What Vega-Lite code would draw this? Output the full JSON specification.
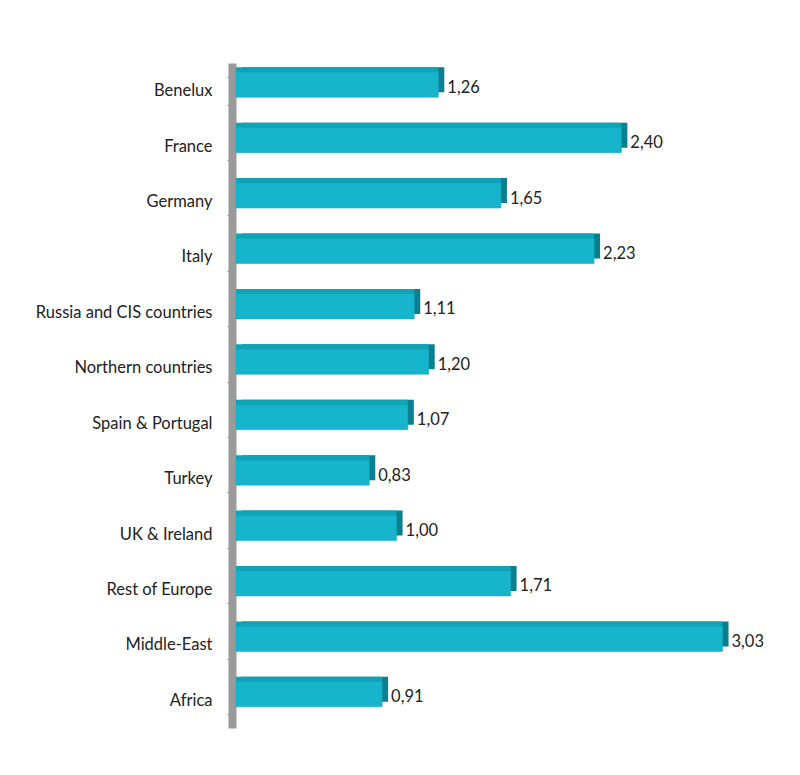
{
  "$schema": "https://vega.github.io/schema/vega-lite/v6.json",
  "autosize": "none",
  "width": 562,
  "height": 665,
  "padding": {"left": 236, "top": 63, "right": 2, "bottom": 47},
  "background": "white",
  "config": {
    "view": {"stroke": null},
    "locale": {"number": {"decimal": ",", "thousands": ".", "grouping": [3], "currency": ["", " €"]}},
    "font": "Lato"
  },
  "data": {
    "values": [
      {"region": "Benelux", "value": 1.26},
      {"region": "France", "value": 2.40},
      {"region": "Germany", "value": 1.65},
      {"region": "Italy", "value": 2.23},
      {"region": "Russia and CIS countries", "value": 1.11},
      {"region": "Northern countries", "value": 1.20},
      {"region": "Spain & Portugal", "value": 1.07},
      {"region": "Turkey", "value": 0.83},
      {"region": "UK & Ireland", "value": 1.00},
      {"region": "Rest of Europe", "value": 1.71},
      {"region": "Middle-East", "value": 3.03},
      {"region": "Africa", "value": 0.91}
    ]
  },
  "encoding": {
    "y": {
      "field": "region", "type": "nominal", "sort": null, "title": null,
      "scale": {"paddingInner": 0.5, "paddingOuter": 0.25},
      "axis": {
        "domainColor": "#9a9a9a", "domainWidth": 8, "offset": 4,
        "tickBand": "extent", "tickSize": 5, "tickColor": "#8a8a8a",
        "labelPadding": 15, "labelFontSize": 16.5, "labelColor": "#222222", "labelFont": "Lato"
      }
    },
    "x": {
      "field": "value", "type": "quantitative", "title": null,
      "scale": {"domain": [0, 3.5]},
      "axis": null
    }
  },
  "layer": [
    {"mark": {"type": "bar", "color": "#0a7f90", "xOffset": 6, "yOffset": -11, "size": 25}},
    {"mark": {"type": "bar", "color": "#0fa3b8", "yOffset": -11, "size": 25}},
    {"mark": {"type": "bar", "color": "#17b5cc", "yOffset": -6, "size": 25, "stroke": "#11a6bc", "strokeWidth": 0.5}},
    {
      "mark": {"type": "text", "align": "left", "dx": 9, "dy": -3, "fontSize": 16.5, "color": "#222222", "font": "Lato"},
      "encoding": {"text": {"field": "value", "type": "quantitative", "format": ".2f"}}
    }
  ]
}
